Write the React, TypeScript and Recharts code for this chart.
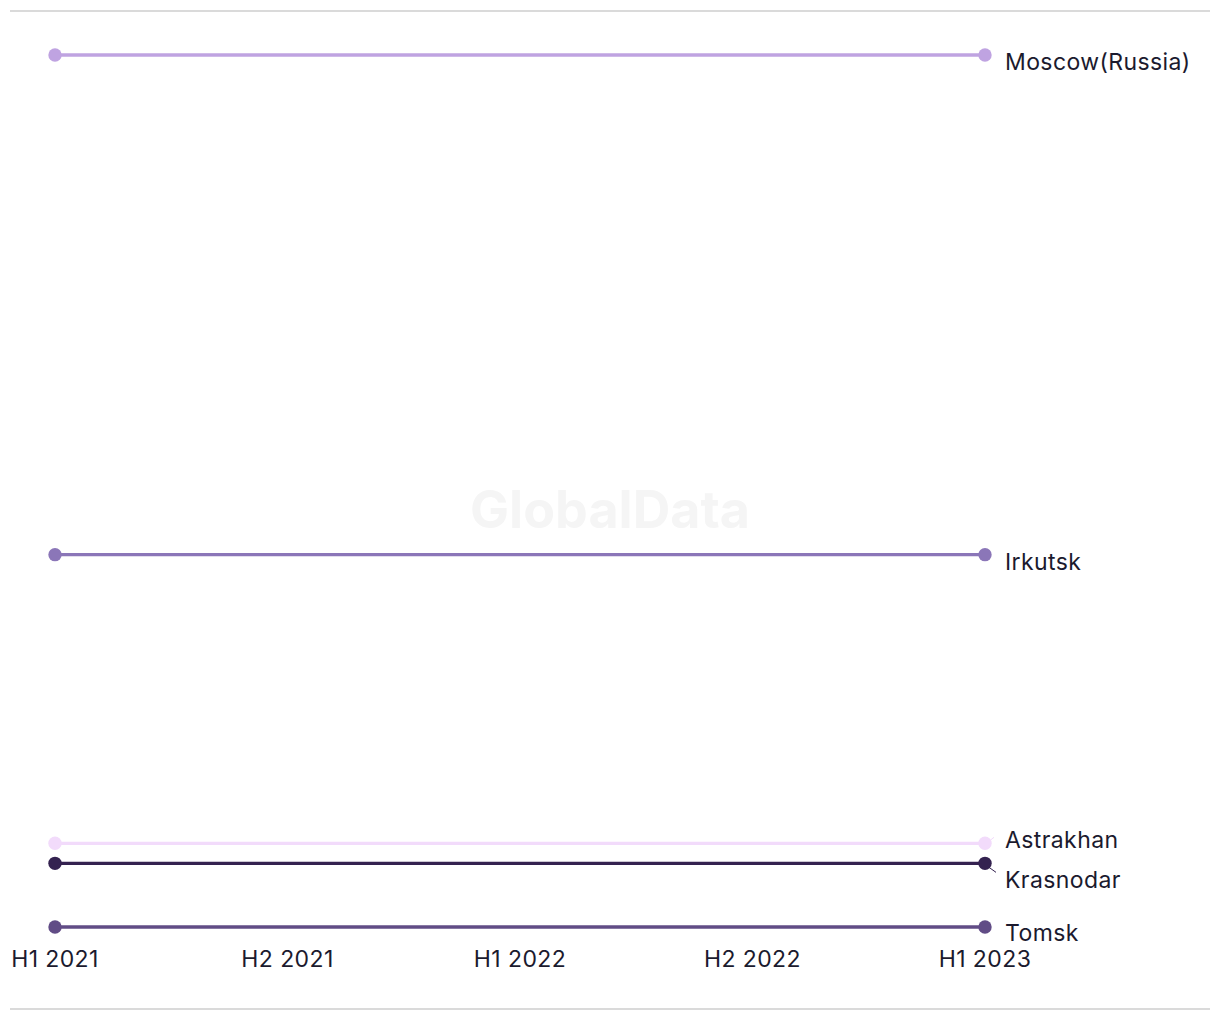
import React from "react";
import { LineChart, Line, XAxis, YAxis } from "recharts";

const periods = ["H1 2021", "H2 2021", "H1 2022", "H2 2022", "H1 2023"];
const moscow = [100, 100, 100, 100, 100];
const irkutsk = [42.7, 42.7, 42.7, 42.7, 42.7];
const astrakhan = [9.6, 9.6, 9.6, 9.6, 9.6];
const krasnodar = [7.3, 7.3, 7.3, 7.3, 7.3];
const tomsk = [0, 0, 0, 0, 0];

const seriesList = [
  { key: "moscow", name: "Moscow(Russia)", values: moscow, color: "#bfa3e1" },
  { key: "irkutsk", name: "Irkutsk", values: irkutsk, color: "#8b76b8" },
  { key: "astrakhan", name: "Astrakhan", values: astrakhan, color: "#f2dbfb" },
  { key: "krasnodar", name: "Krasnodar", values: krasnodar, color: "#342250" },
  { key: "tomsk", name: "Tomsk", values: tomsk, color: "#614c86" },
];

// label vertical offsets (styling, collision avoidance)
const labelDy: Record<string, number> = {
  moscow: 15,
  irkutsk: 15,
  astrakhan: 5,
  krasnodar: 25,
  tomsk: 14,
};
const leader: Record<string, [number, number, number, number]> = {
  astrakhan: [4, -2, 9, -6],
  krasnodar: [4, 4, 11, 9],
};

const data = periods.map((p, i) => {
  const row: Record<string, any> = { period: p };
  seriesList.forEach((s) => (row[s.key] = s.values[i]));
  return row;
});

const FONT = "Inter, 'Noto Sans', sans-serif";

const makeDot = (s: typeof seriesList[number]) => (props: any) => {
  const { cx, cy, index } = props;
  const last = periods.length - 1;
  if (index !== 0 && index !== last) return <g key={`${s.key}-d-${index}`} />;
  return (
    <g key={`${s.key}-d-${index}`}>
      <circle cx={cx} cy={cy} r={6.7} fill={s.color} stroke="none" />
      {index === last && leader[s.key] && (
        <line
          x1={cx + leader[s.key][0]}
          y1={cy + leader[s.key][1]}
          x2={cx + leader[s.key][2]}
          y2={cy + leader[s.key][3]}
          stroke={s.color}
          strokeWidth={1}
        />
      )}
      {index === last && (
        <text
          x={cx + 20}
          y={cy + labelDy[s.key]}
          fontSize={23}
          letterSpacing={0.4}
          fontFamily={FONT}
          fill="#1b1a2e"
        >
          {s.name}
        </text>
      )}
    </g>
  );
};

export default function App() {
  return (
    <div
      style={{
        position: "absolute",
        left: 0,
        top: 0,
        width: 1220,
        height: 1020,
        background: "#fff",
        fontFamily: FONT,
      }}
    >
      <div style={{ position: "absolute", left: 10, top: 10, width: 1200, height: 2, background: "#dadada" }} />
      <div style={{ position: "absolute", left: 10, top: 1008, width: 1200, height: 2, background: "#dadada" }} />
      <div
        style={{
          position: "absolute",
          left: 0,
          top: 480,
          width: 1220,
          textAlign: "center",
          fontSize: 52,
          fontWeight: 700,
          color: "#f5f5f5",
          fontFamily: FONT,
          lineHeight: "60px",
        }}
      >
        GlobalData
      </div>
      <div style={{ position: "absolute", left: 0, top: 0 }}>
        <LineChart
          width={1220}
          height={1020}
          data={data}
          margin={{ top: 55, right: 235, bottom: 63, left: 55 }}
        >
          <XAxis
            dataKey="period"
            axisLine={false}
            tickLine={false}
            tickSize={0}
            tickMargin={24}
            height={30}
            interval={0}
            tick={{ fontSize: 23, fill: "#1b1a2e", fontFamily: FONT, letterSpacing: 0.4 }}
          />
          <YAxis hide domain={[0, 100]} />
          {seriesList.map((s) => (
            <Line
              key={s.key}
              dataKey={s.key}
              stroke={s.color}
              strokeWidth={3.3}
              dot={makeDot(s)}
              activeDot={false}
              isAnimationActive={false}
            />
          ))}
        </LineChart>
      </div>
    </div>
  );
}
